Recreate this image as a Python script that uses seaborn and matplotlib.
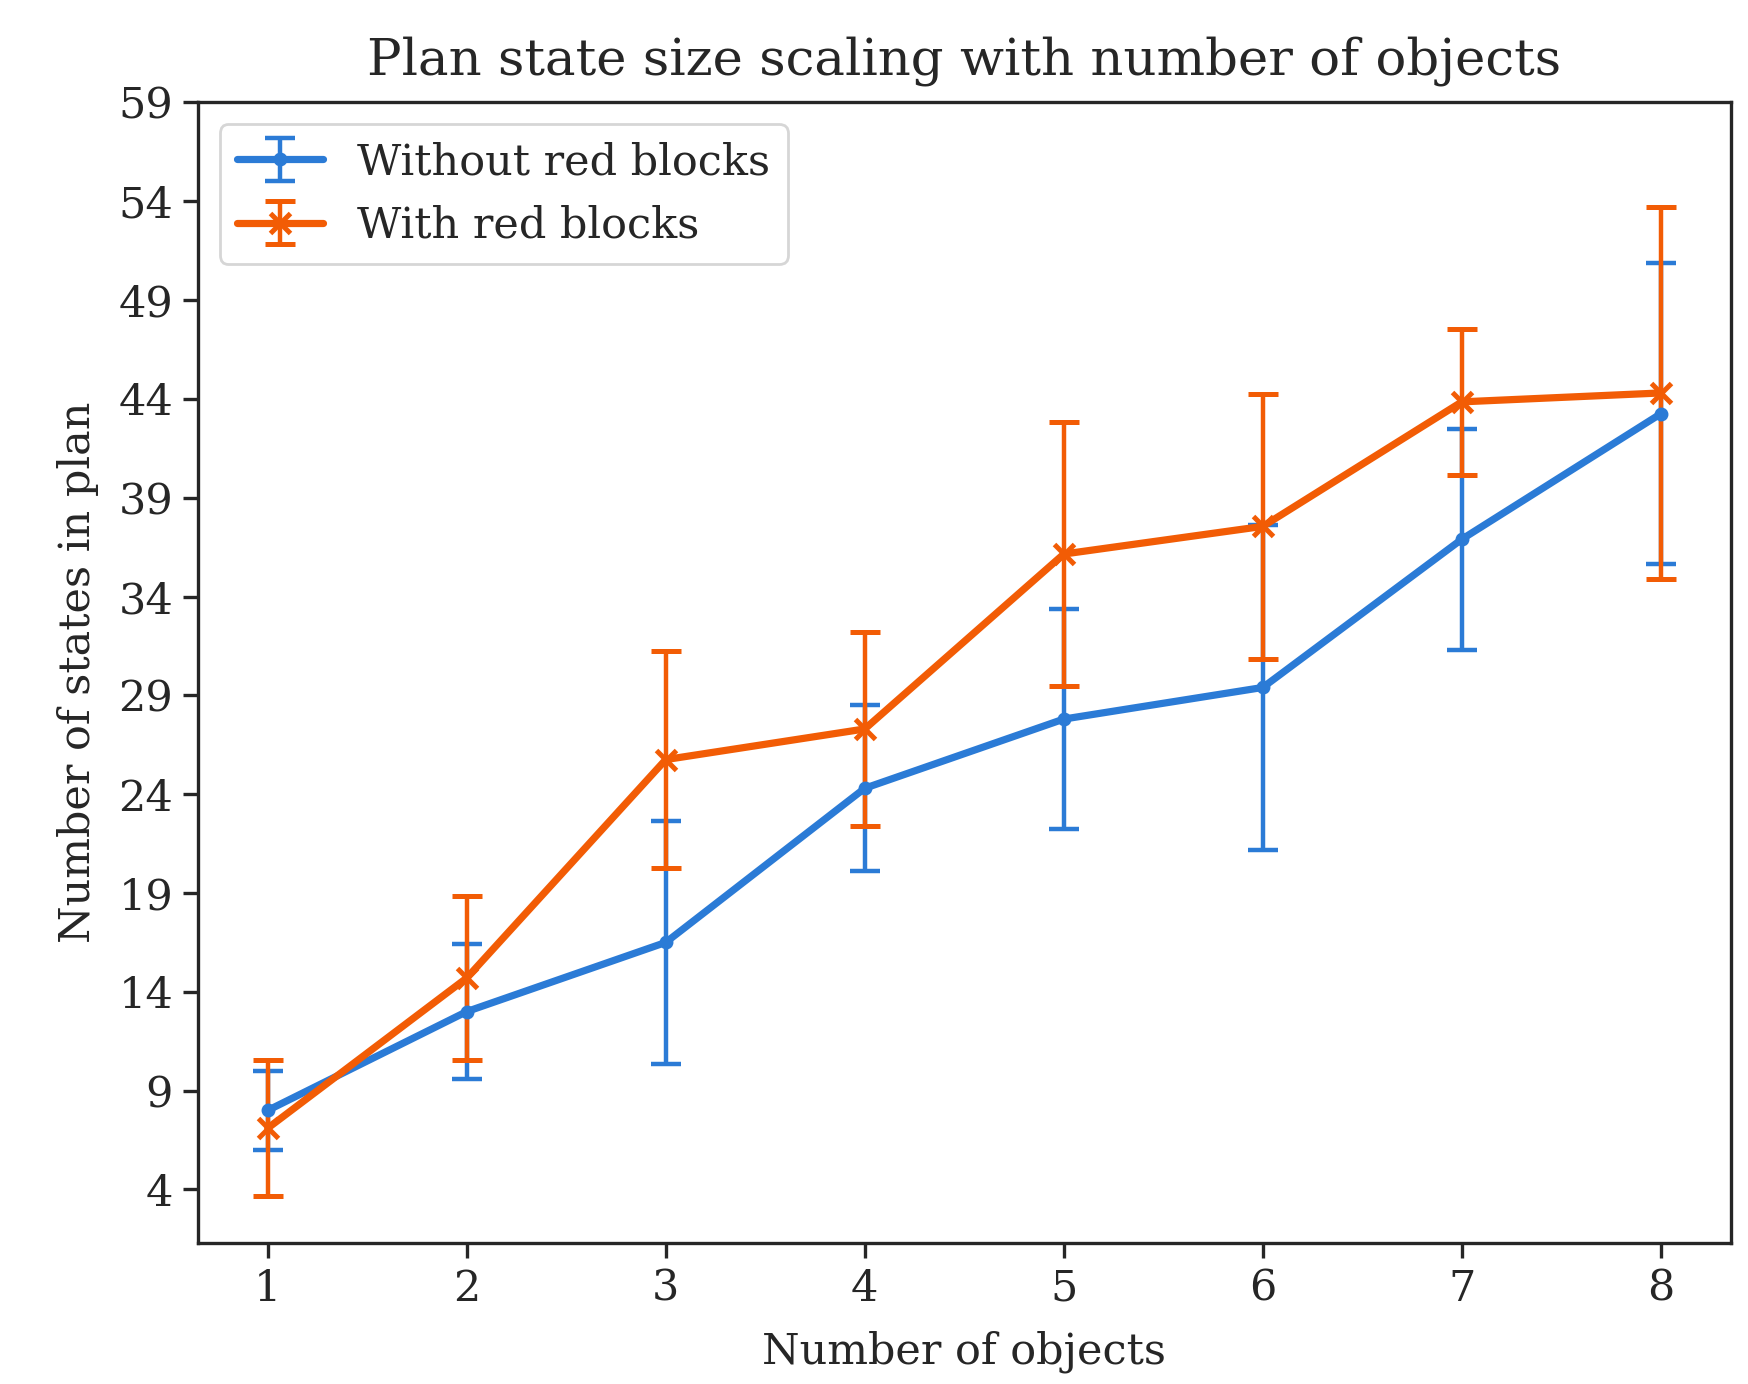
import numpy as np
import pandas as pd
import matplotlib
matplotlib.use("Agg")
import matplotlib.pyplot as plt
import seaborn as sns

objects = [1, 2, 3, 4, 5, 6, 7, 8]
without_mean = [8.0, 13.0, 16.5, 24.3, 27.8, 29.4, 36.9, 43.25]
without_err = [2.0, 3.4, 6.15, 4.2, 5.55, 8.2, 5.6, 7.6]
with_mean = [7.1, 14.7, 25.75, 27.3, 36.15, 37.55, 43.85, 44.3]
with_err = [3.45, 4.15, 5.5, 4.9, 6.7, 6.7, 3.7, 9.4]
yticks = list(range(4, 60, 5))

sns.set_theme(style="ticks")
plt.rcParams['font.family'] = ['DejaVu Serif']

fig = plt.figure(figsize=(8.74, 6.92), dpi=200)
ax = fig.add_axes([0.1133, 0.102, 0.8767, 0.824])

blue = "#2b7bd6"
orange = "#f25c05"

df = pd.DataFrame({"x": objects, "wo": without_mean, "w": with_mean})
ax.errorbar(df["x"], df["wo"], yerr=without_err, color=blue, marker=".",
            markersize=8, lw=2.6, elinewidth=1.6, capsize=5.5, capthick=1.6,
            label="Without red blocks")
ax.errorbar(df["x"], df["w"], yerr=with_err, color=orange, marker="x",
            markersize=7, mew=1.8, lw=2.6, elinewidth=1.6, capsize=5.5, capthick=1.6,
            label="With red blocks")

ax.set_xlim(0.65, 8.35)
ax.set_ylim(1.3, 59)
ax.set_xticks(objects)
ax.set_yticks(yticks)
ax.tick_params(labelsize=15.5, length=5.5, width=1.2)
for s in ax.spines.values():
    s.set_linewidth(1.2)
ax.set_xlabel("Number of objects", fontsize=15.5, labelpad=7.5)
ax.set_ylabel("Number of states in plan", fontsize=15.5, labelpad=7)
ax.set_title("Plan state size scaling with number of objects", fontsize=18.5, pad=10)
ax.legend(loc="upper left", fontsize=15.5, frameon=True)

fig.savefig("out.png", dpi=200)
